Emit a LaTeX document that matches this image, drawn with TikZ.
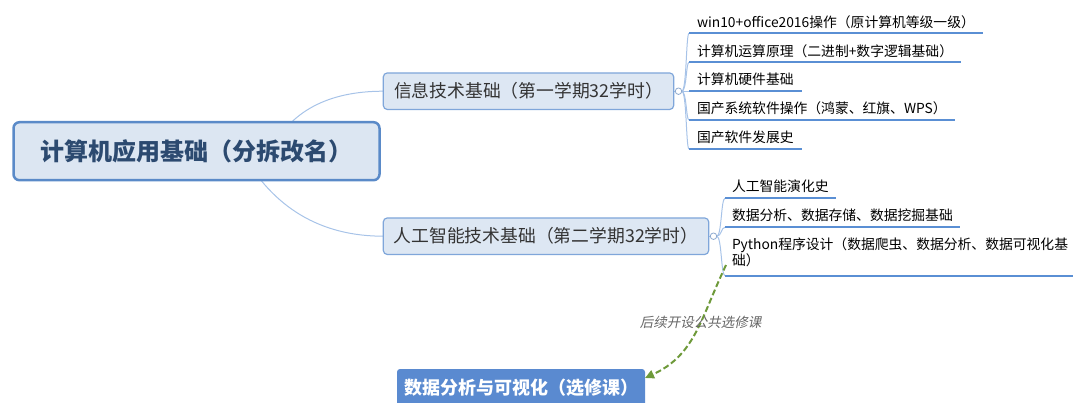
\documentclass[tikz,border=0pt]{standalone}
\usepackage{fontspec}
\setmainfont{Noto Sans CJK SC}
\newfontfamily\slantfont[FakeSlant=0.2]{Noto Sans CJK SC}
\usetikzlibrary{calc,arrows.meta}
\pgfdeclarelayer{background}
\pgfsetlayers{background,main}
\definecolor{rootfill}{HTML}{DCE6F2}
\definecolor{rootline}{HTML}{5A8AC8}
\definecolor{roottext}{HTML}{2C4A70}
\definecolor{branchfill}{HTML}{DDE7F3}
\definecolor{branchline}{HTML}{7FA6DA}
\definecolor{textgrey}{HTML}{333333}
\definecolor{connline}{HTML}{A7C3E8}
\definecolor{ulcolor}{HTML}{5A8FD4}
\definecolor{circleline}{HTML}{8EAAD0}
\definecolor{relgreen}{HTML}{6E9A3A}
\definecolor{labelgrey}{HTML}{666666}
\definecolor{bottomfill}{HTML}{5A8AD0}
\begin{document}
\begin{tikzpicture}[x=1pt,y=-1pt,
  every node/.style={inner sep=0pt, outer sep=0pt},
  rootbox/.style={draw=rootline, line width=2.5pt, fill=rootfill, rounded corners=6pt,
    minimum width=366pt, minimum height=58pt, text=roottext,
    font=\fontsize{24}{28}\selectfont\bfseries},
  branchbox/.style={draw=branchline, line width=1.2pt, fill=branchfill, rounded corners=4pt,
    minimum height=36.5pt, text=textgrey, font=\fontsize{17.8}{20}\selectfont},
  knob/.style={circle, draw=circleline, fill=white, line width=0.8pt, minimum size=6.5pt},
  leafbase/.style={anchor=south west, inner xsep=8pt, inner ysep=0pt, text=black,
    font=\fontsize{13.8}{16}\selectfont},
  leaf/.style={leafbase, text height=9pt, text depth=6.3pt},
  leafb/.style={leafbase, inner xsep=7pt, text height=9pt, text depth=7pt},
  uline/.style={draw=ulcolor, line width=2.2pt},
  conn/.style={draw=connline, line width=1pt},
  rel/.style={draw=relgreen, line width=2pt, dash pattern=on 6pt off 3pt,
    -{Triangle[length=9pt,width=8.5pt]}},
  rellabel/.style={text=labelgrey, font=\fontsize{13.5}{16}\selectfont\slantfont},
  bottombox/.style={fill=bottomfill, rounded corners=3pt, minimum width=248pt,
    minimum height=38pt, text=white, font=\fontsize{18}{22}\selectfont\bfseries}
]
\useasboundingbox (0,0) rectangle (1073,402);
\clip (0,0) rectangle (1073,402);

% root and branches
\node[rootbox] (root) at (196.5,151.2) {计算机应用基础（分拆改名）};
\coordinate (r1) at (270,152);
\coordinate (r2) at (242,152);
\node[branchbox, minimum width=290.4pt] (b1) at (528.5,91.2) {信息技术基础（第一学期32学时）};
\node[branchbox, minimum width=325.4pt] (b2) at (546,236.2) {人工智能技术基础（第二学期32学时）};
\node[knob] (c1) at (678.5,91.2) {};
\node[knob] (c2) at (713.5,236.2) {};

% leaves of branch 1
\node[leaf] (l1) at (689,33.3) {win10+office2016操作（原计算机等级一级）};
\node[leaf] (l2) at (689,62.3) {计算机运算原理（二进制+数字逻辑基础）};
\node[leaf] (l3) at (689,91.2) {计算机硬件基础};
\node[leaf] (l4) at (689,120) {国产系统软件操作（鸿蒙、红旗、WPS）};
\node[leaf] (l5) at (689,149) {国产软件发展史};

% leaves of branch 2
\node[leafb] (l6) at (725,198.3) {人工智能演化史};
\node[leafb] (l7) at (725,227.3) {数据分析、数据存储、数据挖掘基础};
\node[leafbase, inner xsep=7pt, text height=25pt, text depth=10pt] (l8) at (725,275.7)
  {\parbox[b]{340pt}{\raggedright Python程序设计（数据爬虫、数据分析、数据可视化基\\础）}};

% bottom node
\node[bottombox] (bn) at (521,388) {数据分析与可视化（选修课）};

\begin{pgfonlayer}{background}
  \draw[conn] (r1) .. controls ($(r1)+(20,-40.7)$) and ($(b1.west)+(-55.3,0)$) .. (b1.west);
  \draw[conn] (r2) .. controls ($(r2)+(30.7,55.3)$) and ($(b2.west)+(-63.3,0)$) .. (b2.west);
  \draw[conn] (b1.east) -- (c1.west);
  \draw[conn] (b2.east) -- (c2.west);
  \foreach \l in {l1,l2,l4,l5}
    \draw[conn] (c1.east) .. controls ($(c1.east)+(5,0)$) and ($(\l.south west)+(-3,0)$) .. (\l.south west);
  \draw[conn] (c1.east) -- (l3.south west);
  \foreach \l in {l6,l7,l8}
    \draw[conn] (c2.east) .. controls ($(c2.east)+(5,0)$) and ($(\l.south west)+(-4,0)$) .. (\l.south west);
\end{pgfonlayer}

% underlines
\foreach \l in {l1,l2,l3,l4,l5,l6,l7,l8}
  \draw[uline] (\l.south west) -- (\l.south east);

% relationship
\coordinate (rs) at ($(l8.south west)+(1,-10.7)$);
\coordinate (re) at ($(bn.north east)+(0,9)$);
\draw[rel] (rs) .. controls ($(rs)+(-26,55)$) and ($(re)+(50,-23)$) .. (re)
  node[rellabel, pos=0.4] (rl) {后续开设公共选修课};
\end{tikzpicture}
\end{document}
